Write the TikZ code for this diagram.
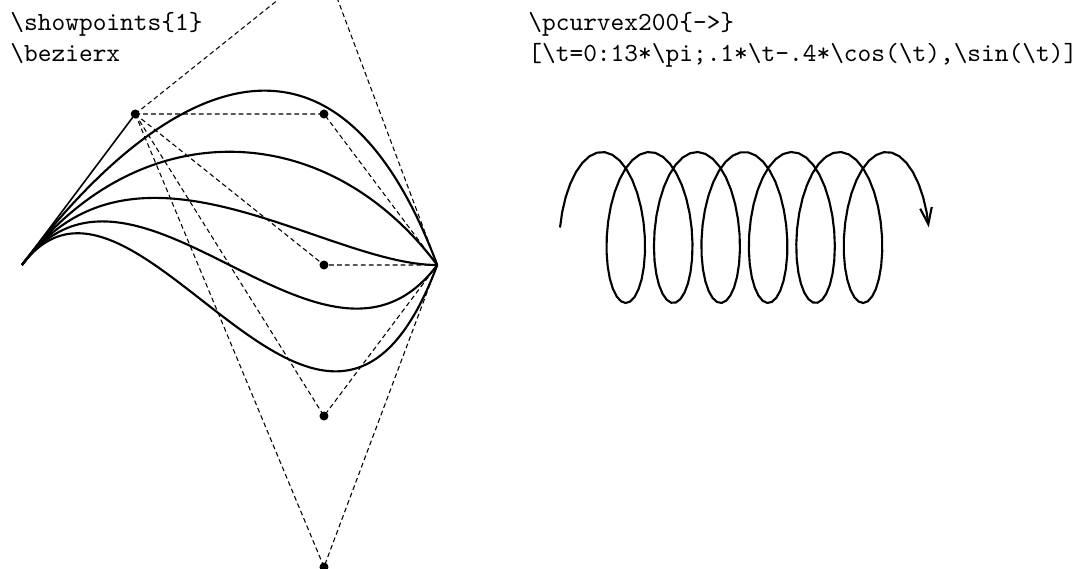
\documentclass[tikz,border=0pt]{standalone}
\usepackage{tikz}
\usetikzlibrary{arrows.meta}

\begin{document}
\begin{tikzpicture}[x=1cm,y=1cm,
  every node/.style={font=\fontsize{9.85}{12}\selectfont\ttfamily,inner sep=0pt,anchor=base west},
  ctrl/.style={line width=0.4pt,dash pattern=on 1.8pt off 1.2pt},
  curve/.style={line width=0.8pt}]
  \useasboundingbox (-0.291,-4.026) rectangle (14.106,3.510);
  % labels
  \node (show) at (-0.16,3.11) {\textbackslash showpoints\{1\}};
  \node (bez) at (-0.16,2.69) {\textbackslash bezierx};
  \node (pcurve) at (6.70,3.11) {\textbackslash pcurvex200\{->\}};
  \node (param) at (6.70,2.69) {[\textbackslash t=0:13*\textbackslash pi;.1*\textbackslash t-.4*\textbackslash cos(\textbackslash t),\textbackslash sin(\textbackslash t)]};
  % bezier curves with shared first control point
  \coordinate (A) at (0,0);
  \coordinate (P) at (1.5,2);
  \coordinate (B) at (5.5,0);
  \foreach \k in {0,...,4}
    \coordinate (C\k) at (4,4-2*\k);
  \draw[line width=0.6pt] (A) -- (P);
  \foreach \k in {0,...,4}
    \draw[ctrl] (P) -- (C\k) -- (B);
  \foreach \k in {0,...,4}
    \draw[curve] (A) .. controls (P) and (C\k) .. (B);
  \fill (P) circle (1.7pt);
  \foreach \k in {1,...,4}
    \fill (C\k) circle (1.7pt);
  % spiral
  \begin{scope}[shift={(7.526,0.497)}]
    \draw[curve,-{Straight Barb[length=6.2pt,width=4.4pt]}]
      plot[domain=0:13*pi,samples=200,variable=\t] ({.1*\t-.4*cos(\t r)},{sin(\t r)});
  \end{scope}
\end{tikzpicture}
\end{document}
